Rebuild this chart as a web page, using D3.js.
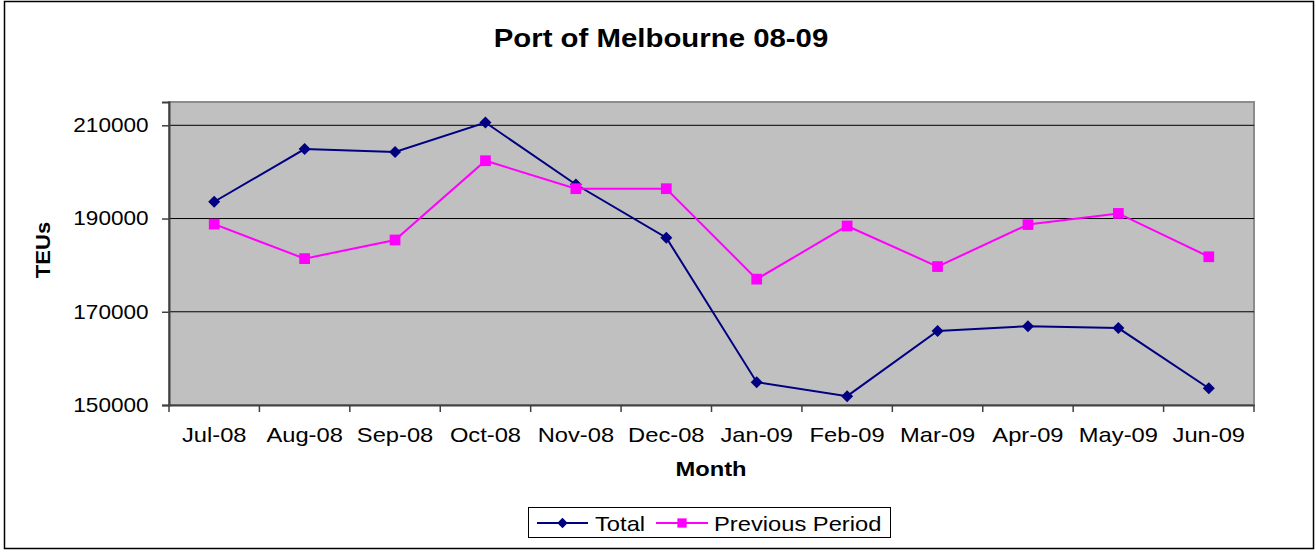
<!DOCTYPE html>
<html lang="en">
<head>
    <meta charset="UTF-8">
    <title>Port of Melbourne 08-09</title>
    <style>
        body {
            margin: 0;
            padding: 0;
            background-color: #ffffff;
        }
        svg text {
            font-family: "Liberation Sans", Arial, sans-serif;
            fill: #000;
        }
    </style>
    <script src="https://d3js.org/d3.v7.min.js"></script>
</head>
<body>
    <svg id="chart" width="1316" height="550"></svg>

    <script>
        const months = ["Jul-08", "Aug-08", "Sep-08", "Oct-08", "Nov-08", "Dec-08",
                        "Jan-09", "Feb-09", "Mar-09", "Apr-09", "May-09", "Jun-09"];
        const total = [193600, 204900, 204300, 210600, 197300, 185900,
                       154900, 151900, 165900, 166900, 166500, 153600];
        const previousPeriod = [188800, 181400, 185400, 202400, 196400, 196400,
                                177000, 188400, 179700, 188700, 191100, 181800];
        const yTicks = [150000, 170000, 190000, 210000];

        const svg = d3.select("#chart");
        const stretch = 1.13; // the original text is a bit wider than Arial

        // plot area box
        const plotLeft = 169, plotRight = 1254, plotTop = 102, plotBottom = 405;

        const x = d3.scaleBand().domain(months).range([plotLeft, plotRight]);
        const y = d3.scaleLinear().domain([150000, 215000]).range([plotBottom, plotTop]);

        function label(px, py, txt, size, bold, anchor) {
            return svg.append("text")
                .attr("transform", `translate(${px},${py}) scale(${stretch},1)`)
                .attr("text-anchor", anchor || "middle")
                .style("font-size", size + "px")
                .style("font-weight", bold ? "bold" : "normal")
                .text(txt);
        }

        // outer chart border
        svg.append("rect")
            .attr("x", 4.5).attr("y", 1.5)
            .attr("width", 1309).attr("height", 547)
            .attr("fill", "none")
            .attr("stroke", "#000")
            .attr("stroke-width", 1.5);

        label(661, 47, "Port of Melbourne 08-09", 26, true);

        // plot background
        svg.append("rect")
            .attr("x", plotLeft).attr("y", plotTop)
            .attr("width", plotRight - plotLeft).attr("height", plotBottom - plotTop)
            .attr("fill", "#c0c0c0")
            .attr("stroke", "#8c8c8c")
            .attr("stroke-width", 2);

        // gridlines
        svg.append("g")
            .selectAll("line")
            .data(yTicks.slice(1))
            .enter().append("line")
            .attr("x1", plotLeft).attr("x2", plotRight)
            .attr("y1", d => y(d)).attr("y2", d => y(d))
            .attr("stroke", "#000")
            .attr("stroke-width", 1);

        // y axis
        const yAxis = svg.append("g")
            .attr("transform", `translate(${plotLeft},0)`)
            .call(d3.axisLeft(y).tickValues(yTicks).tickSize(7).tickPadding(11).tickFormat(d3.format("d")));
        yAxis.select(".domain").attr("stroke", "#404040").attr("stroke-width", 2);
        yAxis.selectAll(".tick line").attr("stroke", "#404040").attr("stroke-width", 1.5);
        yAxis.selectAll("text")
            .style("font-size", "20px")
            .attr("fill", "#000")
            .attr("transform", `scale(${stretch},1)`);

        // x axis, ticks on band boundaries
        const xAxis = svg.append("g")
            .attr("transform", `translate(0,${plotBottom})`)
            .call(d3.axisBottom(x).tickSize(0).tickPadding(22));
        xAxis.select(".domain").attr("stroke", "#404040").attr("stroke-width", 2);
        xAxis.selectAll("text")
            .style("font-size", "21px")
            .attr("fill", "#000")
            .attr("transform", `scale(${stretch},1)`);
        svg.append("g")
            .selectAll("line")
            .data(months.concat(["end"]))
            .enter().append("line")
            .attr("x1", (d, i) => plotLeft + i * x.bandwidth())
            .attr("x2", (d, i) => plotLeft + i * x.bandwidth())
            .attr("y1", plotBottom).attr("y2", plotBottom + 7)
            .attr("stroke", "#404040")
            .attr("stroke-width", 1.5);

        label(711, 476, "Month", 21, true);

        svg.append("text")
            .attr("transform", "translate(50,250) rotate(-90) scale(1.05,1)")
            .attr("text-anchor", "middle")
            .style("font-size", "21px")
            .style("font-weight", "bold")
            .text("TEUs");

        const cx = (d, i) => x(months[i]) + x.bandwidth() / 2;
        const line = d3.line().x(cx).y(d => y(d));

        const series = [
            { name: "Total", values: total, color: "#000080", size: 72, rot: 45 },
            { name: "Previous Period", values: previousPeriod, color: "#ff00ff", size: 115, rot: 0 }
        ];

        series.forEach(s => {
            svg.append("path")
                .datum(s.values)
                .attr("d", line)
                .attr("fill", "none")
                .attr("stroke", s.color)
                .attr("stroke-width", 2);
            svg.append("g")
                .selectAll("path")
                .data(s.values)
                .enter().append("path")
                .attr("d", d3.symbol().type(d3.symbolSquare).size(s.size))
                .attr("transform", (d, i) => `translate(${cx(d, i)},${y(d)}) rotate(${s.rot})`)
                .attr("fill", s.color);
        });

        // legend
        const legend = svg.append("g");
        legend.append("rect")
            .attr("x", 528.5).attr("y", 507.5)
            .attr("width", 362).attr("height", 30)
            .attr("fill", "#fff")
            .attr("stroke", "#000")
            .attr("stroke-width", 1);
        const legendItems = [
            { s: series[0], x0: 537, x1: 588, tx: 595 },
            { s: series[1], x0: 656, x1: 708, tx: 714 }
        ];
        legendItems.forEach(it => {
            legend.append("line")
                .attr("x1", it.x0).attr("x2", it.x1)
                .attr("y1", 523).attr("y2", 523)
                .attr("stroke", it.s.color)
                .attr("stroke-width", 2);
            legend.append("path")
                .attr("d", d3.symbol().type(d3.symbolSquare).size(it.s.size * 0.75))
                .attr("transform", `translate(${(it.x0 + it.x1) / 2},523) rotate(${it.s.rot})`)
                .attr("fill", it.s.color);
            legend.append("text")
                .attr("transform", `translate(${it.tx},531) scale(${stretch},1)`)
                .style("font-size", "21px")
                .text(it.s.name);
        });
    </script>
</body>
</html>
